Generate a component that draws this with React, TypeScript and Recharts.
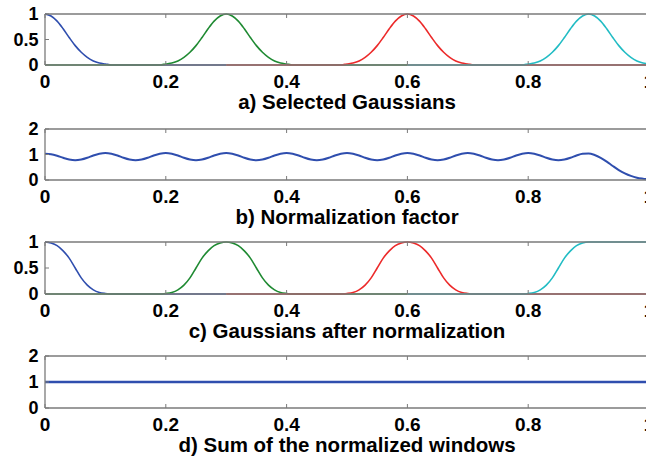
import React from "react";
import { LineChart, Line, XAxis, YAxis } from "recharts";

const FONT = '"Liberation Sans", Arial, Helvetica, sans-serif';
const FRAME = "#7a7a7a";

// sampling grid for the curves, 0..1 in steps of 0.01
const xGrid = Array.from({ length: 101 }, (_, i) => i / 100);

const xTicks = [0, 0.2, 0.4, 0.6, 0.8, 1];
const unitTicks = [0, 0.5, 1];
const pairTicks = [0, 1, 2];

// the four windows that are shown, and the x span each one is plotted over
const windowKeys = ["w0", "w3", "w6", "w9"];
const windowCentres = [0, 0.3, 0.6, 0.9];
const windowSpans = [
  [0, 0.3],
  [0, 0.6],
  [0.3, 1],
  [0.6, 1],
];
const windowColors = ["#2f4eae", "#1f8a32", "#ec2a2a", "#22bcc4"];

// Gaussian window, from its centre outwards, one value per 0.01
const gaussProfile = [1, 0.96, 0.86, 0.71, 0.54, 0.38, 0.25, 0.15, 0.08, 0.04, 0.02];
// same window after division by the normalization factor
const normProfile = [1, 0.98, 0.93, 0.83, 0.69, 0.5, 0.31, 0.17, 0.08, 0.03, 0.01];
// the last window has no right neighbour, so it stays at 1 after normalization
const normEdgeTail = [1, 1, 1, 1, 1, 1, 1, 1, 1, 1, 1];

// sum of all windows, one value per 0.01 from 0 to 1
const normFactor = [
  1.03, 1.01, 0.95, 0.87, 0.8, 0.77, 0.8, 0.87, 0.96, 1.03,
  1.06, 1.03, 0.96, 0.87, 0.8, 0.77, 0.8, 0.87, 0.96, 1.03,
  1.06, 1.03, 0.96, 0.87, 0.8, 0.77, 0.8, 0.87, 0.96, 1.03,
  1.06, 1.03, 0.96, 0.87, 0.8, 0.77, 0.8, 0.87, 0.96, 1.03,
  1.06, 1.03, 0.96, 0.87, 0.8, 0.77, 0.8, 0.87, 0.96, 1.03,
  1.06, 1.03, 0.96, 0.87, 0.8, 0.77, 0.8, 0.87, 0.96, 1.03,
  1.06, 1.03, 0.96, 0.87, 0.8, 0.77, 0.8, 0.87, 0.96, 1.03,
  1.06, 1.03, 0.96, 0.87, 0.8, 0.77, 0.8, 0.87, 0.96, 1.03,
  1.06, 1.03, 0.96, 0.87, 0.8, 0.77, 0.8, 0.87, 0.96, 1.03,
  1.04, 0.98, 0.87, 0.72, 0.55, 0.39, 0.26, 0.16, 0.09, 0.05, 0.02,
];

// sum of the normalized windows
const sumX = [0, 1];
const sumY = [1, 1];

const lookup = (profile: number[], x: number, c: number) => {
  const k = Math.round(Math.abs(x - c) * 100);
  return k < profile.length ? profile[k] : 0;
};

const buildWindows = (profile: number[], edgeTail?: number[]) =>
  xGrid.map((x) => {
    const row: Record<string, number | null> = { x };
    windowKeys.forEach((key, i) => {
      const [a, b] = windowSpans[i];
      const c = windowCentres[i];
      if (x < a - 1e-9 || x > b + 1e-9) {
        row[key] = null;
      } else if (edgeTail && i === windowKeys.length - 1 && x > c) {
        row[key] = lookup(edgeTail, x, c);
      } else {
        row[key] = lookup(profile, x, c);
      }
    });
    return row;
  });

const gaussRows = buildWindows(gaussProfile);
const normRows = buildWindows(normProfile, normEdgeTail);
const factorRows = xGrid.map((x, i) => ({ x, f: normFactor[i] }));
const sumRows = sumX.map((x, i) => ({ x, s: sumY[i] }));

type Series = { key: string; color: string; width: number };

type PanelProps = {
  top: number;
  plotHeight: number;
  data: Record<string, number | null>[];
  series: Series[];
  yTicks: number[];
  yMax: number;
  title: string;
};

const tickStyle = { fill: "#000", fontSize: 19, fontWeight: 700, fontFamily: FONT };

const Panel = ({ top, plotHeight, data, series, yTicks, yMax, title }: PanelProps) => (
  <div style={{ position: "absolute", left: 0, top }}>
    <LineChart
      width={700}
      height={14 + plotHeight + 49}
      data={data}
      margin={{ top: 13, right: 51, bottom: 0, left: 0 }}
    >
      <XAxis
        dataKey="x"
        type="number"
        domain={[0, 1]}
        ticks={xTicks}
        interval={0}
        height={49}
        tickSize={-4}
        tickMargin={14}
        axisLine={{ stroke: FRAME, strokeWidth: 1.3 }}
        tickLine={{ stroke: FRAME }}
        tick={tickStyle}
        tickFormatter={(v: number) => String(v)}
        label={{
          value: title,
          position: "insideBottom",
          offset: 5,
          fill: "#000",
          fontSize: 20.5,
          fontWeight: 700,
          fontFamily: FONT,
        }}
      />
      <XAxis
        xAxisId="top"
        dataKey="x"
        type="number"
        orientation="top"
        domain={[0, 1]}
        ticks={xTicks}
        interval={0}
        height={1}
        tickSize={-4}
        axisLine={{ stroke: FRAME, strokeWidth: 1.3 }}
        tickLine={{ stroke: FRAME }}
        tickFormatter={() => ""}
      />
      <YAxis
        type="number"
        domain={[0, yMax]}
        ticks={yTicks}
        interval={0}
        width={45}
        tickSize={-4}
        tickMargin={10.5}
        axisLine={{ stroke: FRAME, strokeWidth: 1.3 }}
        tickLine={{ stroke: FRAME }}
        tick={{ ...tickStyle, fontSize: 18 }}
      />
      <YAxis
        yAxisId="right"
        type="number"
        orientation="right"
        domain={[0, yMax]}
        ticks={yTicks}
        interval={0}
        width={0}
        tickSize={-4}
        axisLine={{ stroke: FRAME, strokeWidth: 1.3 }}
        tickLine={{ stroke: FRAME }}
        tickFormatter={() => ""}
      />
      {series.map((s) => (
        <Line
          key={s.key}
          dataKey={s.key}
          type="monotone"
          stroke={s.color}
          strokeWidth={s.width}
          dot={false}
          activeDot={false}
          connectNulls={false}
          isAnimationActive={false}
        />
      ))}
    </LineChart>
  </div>
);

const windowSeries = windowKeys.map((key, i) => ({ key, color: windowColors[i], width: 1.6 }));

export default function App() {
  return (
    <div
      style={{
        position: "absolute",
        left: 0,
        top: 0,
        width: 646,
        height: 459,
        overflow: "hidden",
        background: "#fff",
      }}
    >
      <Panel
        top={0}
        plotHeight={51}
        data={gaussRows}
        series={windowSeries}
        yTicks={unitTicks}
        yMax={1}
        title="a) Selected Gaussians"
      />
      <Panel
        top={115}
        plotHeight={51}
        data={factorRows}
        series={[{ key: "f", color: "#2f4eae", width: 2 }]}
        yTicks={pairTicks}
        yMax={2}
        title="b) Normalization factor"
      />
      <Panel
        top={228}
        plotHeight={52}
        data={normRows}
        series={windowSeries}
        yTicks={unitTicks}
        yMax={1}
        title="c) Gaussians after normalization"
      />
      <Panel
        top={342}
        plotHeight={52}
        data={sumRows}
        series={[{ key: "s", color: "#2f4eae", width: 2.6 }]}
        yTicks={pairTicks}
        yMax={2}
        title="d) Sum of the normalized windows"
      />
    </div>
  );
}
